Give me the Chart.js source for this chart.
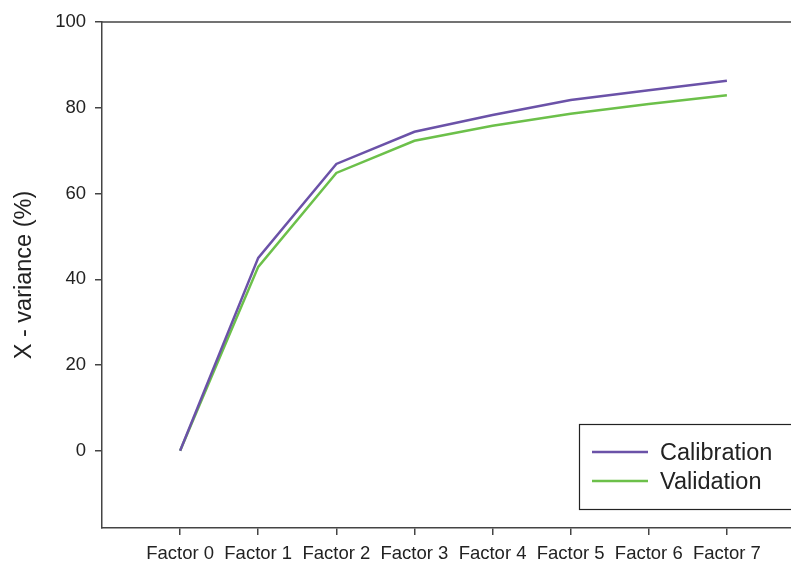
<!DOCTYPE html>
<html>
<head>
<meta charset="utf-8">
<script src="https://cdn.jsdelivr.net/npm/chart.js@4/dist/chart.umd.min.js"></script>
<style>
  html, body { margin: 0; padding: 0; background: #fff; overflow: hidden; }
  #wrap { width: 830px; height: 565px; }
</style>
</head>
<body>
<div id="wrap"><canvas id="c" width="830" height="565"></canvas></div>
<script>
// Explained X-variance per number of factors
const categories = ['Factor 0', 'Factor 1', 'Factor 2', 'Factor 3', 'Factor 4', 'Factor 5', 'Factor 6', 'Factor 7'];
const calibration = [0, 45.0, 66.9, 74.4, 78.3, 81.8, 84.1, 86.3];
const validation  = [0, 42.9, 64.8, 72.3, 75.8, 78.6, 80.9, 82.9];
const yTicks = [0, 20, 40, 60, 80, 100];

const AXIS = '#444444';
const TEXT = '#222222';
const PURPLE = '#6b52a8';
const GREEN = '#6cc04a';
const FONT = '"Liberation Sans", Arial, sans-serif';

const toPoints = vals => vals.map((v, i) => ({ x: i, y: v }));

// Frame line along the top and the boxed legend in the lower right
const framePlugin = {
  id: 'frame',
  afterDraw(chart) {
    const { ctx, chartArea } = chart;
    ctx.save();
    ctx.strokeStyle = AXIS;
    ctx.lineWidth = 1.5;
    ctx.beginPath();
    ctx.moveTo(chartArea.left, chartArea.top);
    ctx.lineTo(chartArea.right, chartArea.top);
    ctx.stroke();

    // legend
    const bx = 579.5, by = 424.5, bw = 300, bh = 85;
    ctx.fillStyle = '#fff';
    ctx.fillRect(bx, by, bw, bh);
    ctx.strokeStyle = '#222';
    ctx.lineWidth = 1.2;
    ctx.strokeRect(bx, by, bw, bh);
    const items = chart.data.datasets;
    ctx.font = '23.5px ' + FONT;
    ctx.textBaseline = 'middle';
    items.forEach((ds, i) => {
      const y = by + 27.5 + i * 29;
      ctx.strokeStyle = ds.borderColor;
      ctx.lineWidth = 2.5;
      ctx.beginPath();
      ctx.moveTo(592, y);
      ctx.lineTo(648, y);
      ctx.stroke();
      ctx.fillStyle = TEXT;
      ctx.fillText(ds.label, 660, y + 2);
    });
    ctx.restore();
  }
};

new Chart(document.getElementById('c'), {
  type: 'line',
  data: {
    datasets: [
      { label: 'Calibration', data: toPoints(calibration), borderColor: PURPLE, borderWidth: 2.5, pointRadius: 0, tension: 0 },
      { label: 'Validation', data: toPoints(validation), borderColor: GREEN, borderWidth: 2.5, pointRadius: 0, tension: 0 }
    ]
  },
  options: {
    responsive: false,
    animation: false,
    layout: { padding: { top: 22, right: 25, left: 0, bottom: 0 } },
    plugins: { legend: { display: false }, tooltip: { enabled: false } },
    scales: {
      x: {
        type: 'linear',
        min: -1,
        max: 8,
        afterBuildTicks: s => { s.ticks = categories.map((_, i) => ({ value: i })); },
        afterFit: s => { s.height = 37; },
        grid: { drawOnChartArea: false, drawTicks: true, tickLength: 7, color: AXIS, lineWidth: 1.5 },
        border: { display: true, color: AXIS, width: 1.5 },
        ticks: {
          autoSkip: false,
          maxRotation: 0,
          padding: 8,
          color: TEXT,
          font: { family: FONT, size: 18.5 },
          callback: v => categories[v] ?? ''
        }
      },
      y: {
        min: -18,
        max: 100,
        afterBuildTicks: s => { s.ticks = yTicks.map(v => ({ value: v })); },
        afterFit: s => { s.width = 102; },
        grid: { drawOnChartArea: false, drawTicks: true, tickLength: 7, color: AXIS, lineWidth: 1.5 },
        border: { display: true, color: AXIS, width: 1.5 },
        ticks: { padding: 9, color: TEXT, font: { family: FONT, size: 18.5 } },
        title: { display: true, text: 'X - variance (%)', color: TEXT, font: { family: FONT, size: 23.5 }, padding: { top: 10, bottom: 4 } }
      }
    }
  },
  plugins: [framePlugin]
});
</script>
</body>
</html>
